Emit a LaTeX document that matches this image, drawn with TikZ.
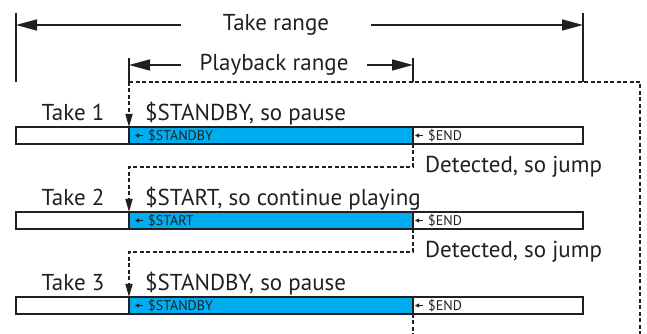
\documentclass[tikz,border=0pt]{standalone}
\usepackage{fontspec}
\setmainfont{PT Sans}
\usetikzlibrary{arrows.meta}
\definecolor{cueblue}{RGB}{0,174,239}
\definecolor{ink}{RGB}{35,31,32}

\begin{document}
\begin{tikzpicture}[x=10pt,y=10pt,
    font=\fontsize{23}{27}\selectfont, color=ink,
    tick/.style={line width=1.6pt},
    rng/.style={line width=1.6pt, -{Triangle[length=21pt,width=11pt]}},
    rlabel/.style={inner sep=0pt},
    bar/.style={line width=1.6pt, draw=ink},
    jump/.style={line width=1.5pt, dash pattern=on 4pt off 2.5pt},
    jumpto/.style={jump, -{Triangle[length=13pt,width=7pt]}},
    tag/.style={inner sep=0pt, inner xsep=5pt, anchor=west,
        font=\fontsize{14}{16}\selectfont},
    tagtip/.style={line width=0.8pt, -{Triangle[length=4pt,width=4pt]}}]

\useasboundingbox (0,0) rectangle (64.7,33.4);

% Take range
\draw[tick] (1.6,32.1) -- (1.6,25.2);
\draw[tick] (58.3,32.1) -- (58.3,25.2);
\coordinate (tl) at (1.6,30.9);
\coordinate (tr) at (58.3,30.9);
\node[rlabel, minimum width=190pt] (take) at (27.6,30.9) {Take range};
\draw[rng] (take) -- (tl);
\draw[rng] (take) -- (tr);

% Playback range
\draw[tick] (12.9,27.6) -- (12.9,25.2);
\draw[tick] (41.3,27.6) -- (41.3,25.2);
\coordinate (pl) at (12.9,26.9);
\coordinate (pr) at (41.3,26.9);
\node[rlabel, minimum width=186pt] (play) at (27.4,26.9) {Playback range};
\draw[rng] (play) -- (pl);
\draw[rng] (play) -- (pr);

% Takes
\draw[bar] (1.6,19.0) rectangle (58.3,20.7);
\draw[bar, fill=cueblue] (12.9,19.0) rectangle (41.3,20.7);
\draw[bar] (1.6,10.5) rectangle (58.3,12.2);
\draw[bar, fill=cueblue] (12.9,10.5) rectangle (41.3,12.2);
\draw[bar] (1.6,2.0) rectangle (58.3,3.7);
\draw[bar, fill=cueblue] (12.9,2.0) rectangle (41.3,3.7);

\coordinate (s1) at (12.9,20.7);
\coordinate (e1) at (41.3,19.0);
\coordinate (s2) at (12.9,12.2);
\coordinate (e2) at (41.3,10.5);
\coordinate (s3) at (12.9,3.7);
\coordinate (e3) at (41.3,2.0);

\node[anchor=base] (take1) at (7.3,21.3) {Take 1};
\node[anchor=base] (take2) at (7.3,12.8) {Take 2};
\node[anchor=base] (take3) at (7.3,4.3) {Take 3};
\node[anchor=base west, inner xsep=0pt] (cue1) at (14.5,21.3) {\$STANDBY, so pause};
\node[anchor=base west, inner xsep=0pt] (cue2) at (14.5,12.8) {\$START, so continue playing};
\node[anchor=base west, inner xsep=0pt] (cue3) at (14.5,4.3) {\$STANDBY, so pause};

% Markers in the bars
\node[tag] (in1) at (14.3,19.85) {\$STANDBY};
\node[tag] (in2) at (14.3,11.35) {\$START};
\node[tag] (in3) at (14.3,2.85) {\$STANDBY};
\node[tag] (out1) at (42.3,19.85) {\$END};
\node[tag] (out2) at (42.3,11.35) {\$END};
\node[tag] (out3) at (42.3,2.85) {\$END};
\foreach \m in {in1,in2,in3,out1,out2,out3}
  \draw[tagtip] (\m.west) -- ++(-0.8,0);

% Jumps
\node[anchor=base west, inner xsep=0pt] (det1) at (42.5,16.1) {Detected, so jump};
\node[anchor=base west, inner xsep=0pt] (det2) at (42.5,7.6) {Detected, so jump};
\coordinate (j1) at (41.3,16.7);
\coordinate (j2) at (41.3,8.2);
\coordinate (pb) at (12.9,25.2);
\coordinate (loop) at (64.0,25.2);

\draw[jump] (pb) -- (loop) -- (loop |- 0,0);
\draw[jumpto] (pb) -- (s1);
\draw[jumpto] (e1) -- (j1) -| (s2);
\draw[jumpto] (e2) -- (j2) -| (s3);
\draw[jump] (e3) -- (e3 |- 0,0);

\end{tikzpicture}
\end{document}
